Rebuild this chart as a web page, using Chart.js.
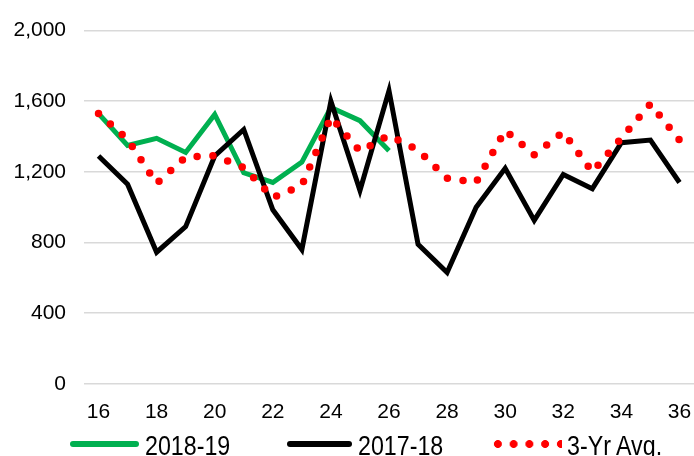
<!DOCTYPE html>
<html>
<head>
<meta charset="utf-8">
<script src="https://cdn.jsdelivr.net/npm/chart.js@4.4.1/dist/chart.umd.min.js"></script>
<style>
  html, body { margin: 0; padding: 0; background: #fff; }
  #wrap { position: relative; width: 694px; height: 456px; overflow: hidden; }
  #chart { position: absolute; left: 0; top: 0; }
  .lg-line { position: absolute; height: 6px; border-radius: 3px; top: 440.5px; }
  .lg-dots { position: absolute; height: 8px; top: 440px;
    background: radial-gradient(circle, #ff0000 3.6px, rgba(255,0,0,0) 4.3px) 0 0 / 15.75px 8px repeat-x; }
  .lg-text { position: absolute; top: 431px; font: 27px "Liberation Sans", Arial, sans-serif; color: #000;
    line-height: 30px; white-space: nowrap; transform: scaleX(0.86); transform-origin: 0 0; }
</style>
</head>
<body>
<div id="wrap">
  <canvas id="chart" width="694" height="456"></canvas>
  <div class="lg-line" style="left:70px; width:69px; background:#00b050;"></div>
  <div class="lg-text" style="left:145px;">2018-19</div>
  <div class="lg-line" style="left:287px; width:65px; background:#000;"></div>
  <div class="lg-text" style="left:358px;">2017-18</div>
  <div class="lg-dots" style="left:490px; width:72px;"></div>
  <div class="lg-text" style="left:567px;">3-Yr Avg.</div>
</div>
<script>
// weeks on the x axis
const weeks = [16, 17, 18, 19, 20, 21, 22, 23, 24, 25, 26, 27, 28, 29, 30, 31, 32, 33, 34, 35, 36];

// series values
const season1819 = [1530, 1350, 1390, 1310, 1525, 1195, 1140, 1255, 1565, 1490, 1320,
                    null, null, null, null, null, null, null, null, null, null];
const season1718 = [1290, 1130, 745, 890, 1290, 1440, 985, 760, 1600, 1095, 1660,
                    790, 630, 1000, 1220, 925, 1185, 1105, 1365, 1380, 1140];
const avg3yr = [1530, 1384, 1135, 1284, 1292, 1224, 1055, 1123, 1510, 1317, 1407,
                1323, 1164, 1141, 1435, 1297, 1425, 1200, 1391, 1585, 1380];

// y axis ticks
const yTicks = [0, 400, 800, 1200, 1600, 2000];

const ctx = document.getElementById("chart").getContext("2d");

new Chart(ctx, {
    type: "line",
    data: {
        labels: weeks,
        datasets: [
            {
                label: "2018-19",
                data: season1819,
                borderColor: "#00b050",
                borderWidth: 5,
                pointRadius: 0,
                order: 3,
            },
            {
                label: "2017-18",
                data: season1718,
                borderColor: "#000000",
                borderWidth: 5,
                pointRadius: 0,
                order: 2,
            },
            {
                label: "3-Yr Avg.",
                data: avg3yr,
                borderColor: "#ff0000",
                borderWidth: 7.5,
                borderDash: [0, 15.8],
                borderCapStyle: "round",
                pointRadius: 0,
                order: 1,
            },
        ],
    },
    options: {
        responsive: false,
        animation: false,
        layout: { padding: { left: 0, right: 0, top: 17, bottom: 23 } },
        plugins: {
            legend: { display: false },
            tooltip: { enabled: false },
        },
        scales: {
            x: {
                offset: true,
                grid: { display: false },
                border: { display: false },
                afterFit: function(axis) {
                    axis.paddingLeft = 0;
                    axis.paddingRight = 0;
                },
                ticks: {
                    autoSkip: false,
                    maxRotation: 0,
                    padding: 8,
                    color: "#000",
                    font: { family: "'Liberation Sans', Arial, sans-serif", size: 21 },
                    callback: function(value, index) {
                        return weeks[index] % 2 === 0 ? String(weeks[index]) : "";
                    },
                },
            },
            y: {
                min: 0,
                max: 2000,
                afterBuildTicks: function(axis) {
                    axis.ticks = yTicks.map(v => ({ value: v }));
                },
                afterFit: function(axis) {
                    axis.width = 84;
                },
                grid: { color: "#d9d9d9", lineWidth: 1.5, drawTicks: false },
                border: { display: false },
                ticks: {
                    padding: 18,
                    color: "#000",
                    font: { family: "'Liberation Sans', Arial, sans-serif", size: 21 },
                    callback: function(value) {
                        return value.toLocaleString("en-US");
                    },
                },
            },
        },
    },
});
</script>
</body>
</html>
